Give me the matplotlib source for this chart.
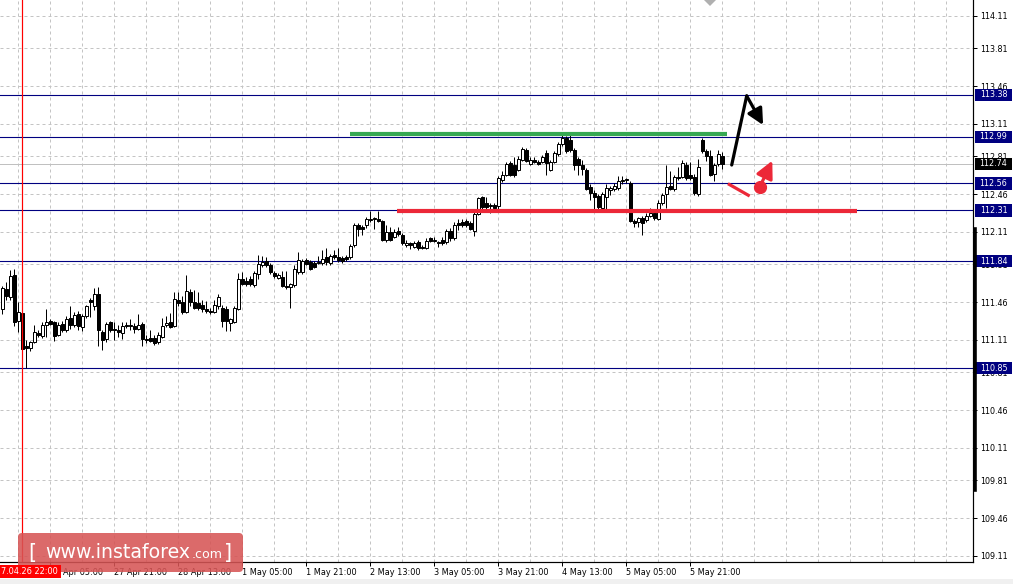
import matplotlib
matplotlib.use("Agg")
import matplotlib.pyplot as plt
from matplotlib.patches import Rectangle, FancyBboxPatch, Polygon
from matplotlib.lines import Line2D
from matplotlib.transforms import blended_transform_factory

# ---------------- data (hourly candles) ----------------
opens = [111.40, 111.58, 111.51, 111.71, 111.29, 111.36, 111.05, 111.04, 111.09, 111.17,
         111.15, 111.25, 111.29, 111.28, 111.16, 111.26, 111.20, 111.31, 111.25, 111.35,
         111.23, 111.33, 111.48, 111.42, 111.54, 111.18, 111.12, 111.28, 111.21, 111.20,
         111.17, 111.25, 111.24, 111.24, 111.21, 111.26, 111.12, 111.13, 111.13, 111.09,
         111.14, 111.25, 111.28, 111.24, 111.48, 111.46, 111.37, 111.55, 111.46, 111.45,
         111.43, 111.40, 111.38, 111.37, 111.42, 111.41, 111.40, 111.27, 111.28, 111.40,
         111.67, 111.66, 111.67, 111.62, 111.72, 111.80, 111.84, 111.80, 111.73, 111.68,
         111.69, 111.61, 111.60, 111.62, 111.74, 111.74, 111.85, 111.83, 111.82, 111.82,
         111.82, 111.88, 111.82, 111.90, 111.88, 111.87, 111.88, 111.88, 111.99, 112.17,
         112.16, 112.17, 112.22, 112.23, 112.23, 112.21, 112.04, 112.11, 112.06, 112.12,
         112.08, 111.99, 112.01, 111.97, 112.02, 111.97, 111.96, 112.05, 112.03, 112.02,
         112.04, 112.02, 112.12, 112.05, 112.19, 112.20, 112.21, 112.19, 112.12, 112.28,
         112.43, 112.38, 112.35, 112.36, 112.35, 112.59, 112.64, 112.75, 112.73, 112.68,
         112.78, 112.87, 112.74, 112.78, 112.76, 112.76, 112.84, 112.68, 112.76, 112.83,
         112.92, 112.98, 112.96, 112.87, 112.79, 112.73, 112.68, 112.53, 112.47, 112.44,
         112.33, 112.43, 112.50, 112.51, 112.52, 112.58, 112.59, 112.56, 112.21, 112.20,
         112.24, 112.22, 112.26, 112.29, 112.23, 112.38, 112.46, 112.54, 112.51, 112.62,
         112.62, 112.73, 112.64, 112.62, 112.46, 112.96, 112.86, 112.81, 112.65, 112.74,
         112.81]
highs = [111.61, 111.65, 111.76, 111.77, 111.46, 111.37, 111.11, 111.10, 111.25, 111.20,
         111.28, 111.40, 111.30, 111.29, 111.28, 111.29, 111.33, 111.42, 111.37, 111.38,
         111.35, 111.43, 111.50, 111.59, 111.60, 111.20, 111.28, 111.29, 111.28, 111.25,
         111.28, 111.28, 111.30, 111.27, 111.35, 111.28, 111.16, 111.20, 111.16, 111.18,
         111.31, 111.33, 111.36, 111.55, 111.55, 111.52, 111.71, 111.58, 111.57, 111.55,
         111.48, 111.47, 111.41, 111.48, 111.54, 111.43, 111.42, 111.31, 111.42, 111.73,
         111.74, 111.69, 111.70, 111.75, 111.90, 111.89, 111.88, 111.82, 111.75, 111.73,
         111.75, 111.75, 111.64, 111.80, 111.92, 111.86, 111.87, 111.85, 111.84, 111.89,
         111.94, 111.96, 111.91, 111.94, 111.96, 111.89, 111.90, 112.00, 112.19, 112.19,
         112.17, 112.25, 112.30, 112.25, 112.30, 112.22, 112.17, 112.16, 112.14, 112.16,
         112.10, 112.04, 112.02, 112.03, 112.04, 111.99, 112.05, 112.06, 112.06, 112.03,
         112.06, 112.14, 112.15, 112.20, 112.23, 112.23, 112.23, 112.21, 112.31, 112.43,
         112.44, 112.43, 112.38, 112.38, 112.63, 112.67, 112.76, 112.77, 112.80, 112.81,
         112.90, 112.89, 112.80, 112.80, 112.78, 112.82, 112.87, 112.78, 112.86, 112.94,
         113.01, 113.00, 113.04, 112.89, 112.80, 112.78, 112.70, 112.55, 112.50, 112.46,
         112.48, 112.55, 112.54, 112.56, 112.63, 112.63, 112.61, 112.58, 112.23, 112.25,
         112.26, 112.29, 112.33, 112.31, 112.41, 112.47, 112.73, 112.67, 112.64, 112.71,
         112.78, 112.76, 112.76, 112.65, 112.79, 112.98, 112.88, 112.87, 112.75, 112.87,
         112.85]
lows = [111.35, 111.48, 111.48, 111.24, 111.18, 111.02, 110.85, 111.01, 111.08, 111.14,
        111.13, 111.14, 111.25, 111.10, 111.15, 111.18, 111.18, 111.21, 111.23, 111.20,
        111.19, 111.31, 111.32, 111.39, 111.05, 111.02, 111.09, 111.18, 111.11, 111.14,
        111.12, 111.22, 111.20, 111.17, 111.20, 111.05, 111.08, 111.09, 111.06, 111.07,
        111.13, 111.23, 111.22, 111.23, 111.42, 111.35, 111.36, 111.42, 111.40, 111.39,
        111.37, 111.36, 111.35, 111.36, 111.40, 111.23, 111.19, 111.19, 111.27, 111.39,
        111.62, 111.61, 111.61, 111.60, 111.67, 111.79, 111.79, 111.72, 111.68, 111.67,
        111.60, 111.58, 111.41, 111.60, 111.72, 111.72, 111.80, 111.76, 111.78, 111.81,
        111.80, 111.80, 111.80, 111.86, 111.83, 111.82, 111.84, 111.86, 111.97, 112.07,
        112.08, 112.15, 112.20, 112.14, 112.20, 112.03, 112.02, 112.03, 112.05, 112.07,
        111.99, 111.97, 111.95, 111.96, 111.94, 111.95, 111.95, 112.02, 112.02, 111.97,
        111.99, 112.00, 112.03, 112.04, 112.13, 112.16, 112.16, 112.13, 112.07, 112.27,
        112.31, 112.31, 112.29, 112.31, 112.30, 112.57, 112.63, 112.63, 112.62, 112.67,
        112.77, 112.76, 112.73, 112.75, 112.73, 112.75, 112.64, 112.67, 112.75, 112.81,
        112.91, 112.84, 112.85, 112.68, 112.64, 112.64, 112.50, 112.41, 112.31, 112.31,
        112.32, 112.31, 112.45, 112.49, 112.50, 112.55, 112.56, 112.20, 112.16, 112.16,
        112.08, 112.20, 112.25, 112.22, 112.22, 112.36, 112.33, 112.50, 112.49, 112.59,
        112.61, 112.59, 112.59, 112.45, 112.44, 112.84, 112.77, 112.63, 112.58, 112.72,
        112.69]
closes = [111.59, 111.52, 111.70, 111.28, 111.37, 111.03, 111.04, 111.09, 111.18, 111.16,
          111.25, 111.28, 111.26, 111.15, 111.25, 111.20, 111.30, 111.25, 111.34, 111.24,
          111.33, 111.42, 111.46, 111.54, 111.20, 111.11, 111.26, 111.20, 111.20, 111.18,
          111.24, 111.24, 111.25, 111.21, 111.25, 111.12, 111.11, 111.10, 111.08, 111.16,
          111.24, 111.27, 111.23, 111.49, 111.45, 111.37, 111.56, 111.46, 111.41, 111.41,
          111.40, 111.38, 111.37, 111.43, 111.51, 111.29, 111.29, 111.30, 111.41, 111.67,
          111.63, 111.63, 111.63, 111.73, 111.81, 111.83, 111.80, 111.74, 111.70, 111.71,
          111.61, 111.60, 111.63, 111.77, 111.85, 111.84, 111.81, 111.77, 111.79, 111.83,
          111.86, 111.83, 111.89, 111.88, 111.85, 111.84, 111.86, 111.98, 112.17, 112.14,
          112.14, 112.23, 112.23, 112.24, 112.21, 112.04, 112.11, 112.04, 112.11, 112.09,
          112.01, 112.01, 111.99, 112.01, 111.96, 111.96, 112.03, 112.03, 112.04, 112.01,
          112.01, 112.12, 112.05, 112.17, 112.17, 112.17, 112.17, 112.14, 112.28, 112.42,
          112.34, 112.34, 112.36, 112.33, 112.61, 112.64, 112.74, 112.64, 112.64, 112.79,
          112.88, 112.77, 112.78, 112.76, 112.74, 112.80, 112.75, 112.76, 112.84, 112.92,
          112.98, 112.86, 112.87, 112.73, 112.73, 112.69, 112.51, 112.47, 112.43, 112.34,
          112.46, 112.52, 112.52, 112.54, 112.58, 112.59, 112.60, 112.21, 112.19, 112.24,
          112.19, 112.26, 112.29, 112.24, 112.38, 112.45, 112.53, 112.51, 112.62, 112.61,
          112.75, 112.61, 112.61, 112.47, 112.71, 112.86, 112.81, 112.64, 112.73, 112.83,
          112.74]

price_ticks = [109.11, 109.46, 109.81, 110.11, 110.46, 110.81, 111.11, 111.46,
               111.81, 112.11, 112.46, 112.81, 113.11, 113.46, 113.81, 114.11]
time_tick_bars = [12, 28, 44, 60, 76, 92, 108, 124, 140, 156, 172]
time_tick_labels = ["26 Apr 05:00", "27 Apr 21:00", "28 Apr 13:00", "1 May 05:00",
                    "1 May 21:00", "2 May 13:00", "3 May 05:00", "3 May 21:00",
                    "4 May 13:00", "5 May 05:00", "5 May 21:00"]
levels = [113.38, 112.99, 112.56, 112.31, 111.84, 110.85]
current_price = 112.74
cursor_bar = 5
cursor_label = "7.04.26 22:00"

resistance_price = 113.02
resistance_bars = [86.9, 181.2]
support_price = 112.30
support_bars = [98.7, 213.7]

bull_path_bars = [182.35, 186.1, 190.2]
bull_path_prices = [112.73, 113.37, 113.10]
bear_stroke_bars = [181.75, 186.5]
bear_stroke_prices = [112.55, 112.45]
bear_dot = (189.4, 112.53)
bear_arrow_tip = (192.5, 112.77)

# ---------------- figure ----------------
W, H = 1013, 584
fig = plt.figure(figsize=(W / 100, H / 100), dpi=100)
fig.patch.set_facecolor("white")
ax = fig.add_axes([0, 1 - 562 / H, 973 / W, 562 / H])
ax.set_facecolor("white")
ax.set_xlim(-0.575, 242.675)
ax.set_ylim(109.054, 114.258)

GRID = "#c4c4c4"
NAVY = "#000080"
px = 0.72  # one pixel in points

# grid
for p in price_ticks:
    ax.axhline(p, color=GRID, lw=px, ls=(0, (3, 3)), zorder=0.5)
for b in range(4, 243, 8):
    ax.axvline(b, color=GRID, lw=px, ls=(0, (3, 3)), zorder=0.5)

# current price line & levels
ax.axhline(current_price, color="#c0c0c0", lw=px, zorder=0.8)
for lv in levels:
    ax.axhline(lv, color=NAVY, lw=px * 1.1, zorder=1)

# candles
n = len(closes)
xs = list(range(n))
ax.vlines(xs, lows, highs, color="black", lw=px, zorder=3)
bottoms = [min(o, c) for o, c in zip(opens, closes)]
heights = [abs(c - o) for o, c in zip(opens, closes)]
faces = ["white" if c >= o else "black" for o, c in zip(opens, closes)]
ax.bar(xs, heights, bottom=bottoms, width=0.75, color=faces, edgecolor="black",
       linewidth=px, zorder=3.5)

# cursor line
ax.axvline(cursor_bar, color="#ff0000", lw=px * 1.2, zorder=4)

# support / resistance
ax.plot(resistance_bars, [resistance_price] * 2, color="#36a852", lw=3.0,
        solid_capstyle="butt", zorder=4.5)
ax.plot(support_bars, [support_price] * 2, color="#ec2838", lw=3.0,
        solid_capstyle="butt", zorder=4.5)

# forecast arrows
ax.plot(bull_path_bars[:2], bull_path_prices[:2], color="black", lw=2.3,
        solid_capstyle="round", zorder=6)
ax.annotate("", xy=(bull_path_bars[2], bull_path_prices[2]),
            xytext=(bull_path_bars[1], bull_path_prices[1]),
            arrowprops=dict(arrowstyle="-|>", color="black", lw=2.3,
                            mutation_scale=24, shrinkA=0, shrinkB=0), zorder=6)
ax.plot(bear_stroke_bars, bear_stroke_prices, color="#ec2838", lw=2.3, zorder=6)
ax.plot([bear_dot[0]], [bear_dot[1]], "o", color="#ec2838", ms=8.5, zorder=6)
ax.annotate("", xy=bear_arrow_tip, xytext=bear_dot,
            arrowprops=dict(arrowstyle="-|>", color="#ec2838", lw=2.3,
                            mutation_scale=26, shrinkA=0, shrinkB=0), zorder=6)

# axes styling
for s in ["top", "left"]:
    ax.spines[s].set_visible(False)
for s in ["right", "bottom"]:
    ax.spines[s].set_color("black")
    ax.spines[s].set_linewidth(px * 1.2)
ax.yaxis.tick_right()
ax.set_yticks(price_ticks)
ax.set_yticklabels([f"{p:.2f}" for p in price_ticks])
ax.tick_params(axis="y", length=3, width=px, pad=2, labelsize=5.8, colors="black")
ax.set_xticks(time_tick_bars)
ax.set_xticklabels(time_tick_labels)
ax.tick_params(axis="x", length=3, width=px, pad=1.5, labelsize=5.9, colors="black")
for lab in ax.get_xticklabels():
    lab.set_horizontalalignment("left")
for lab in ax.get_yticklabels() + ax.get_xticklabels():
    lab.set_family("DejaVu Sans")

# level labels on the price scale
tr = blended_transform_factory(fig.transFigure, ax.transData)
box_h = 12.5 / 108
for lv in levels:
    ax.add_patch(Rectangle((975 / W, lv - box_h / 2), 37 / W, box_h, transform=tr,
                           facecolor=NAVY, edgecolor="none", clip_on=False, zorder=10))
    ax.text(993.5 / W, lv, f"{lv:.2f}", transform=tr, ha="center", va="center",
            color="white", fontsize=5.8, zorder=11, clip_on=False)
ax.add_patch(Rectangle((975 / W, current_price - box_h / 2), 37 / W, box_h, transform=tr,
                       facecolor="black", edgecolor="none", clip_on=False, zorder=10))
ax.text(993.5 / W, current_price, f"{current_price:.2f}", transform=tr, ha="center",
        va="center", color="white", fontsize=5.8, zorder=11, clip_on=False)

# figure-level decorations (pixel coordinates)
def fx(x):
    return x / W

def fy(y):
    return 1 - y / H

# thick scroll bar on the price axis
fig.add_artist(Line2D([fx(974.5), fx(974.5)], [fy(229), fy(490)], color="black", lw=2.6))
# top marker
fig.add_artist(Polygon([(fx(704), fy(0)), (fx(716), fy(0)), (fx(710), fy(6))],
                       closed=True, facecolor="#b0b0b0", edgecolor="none"))
# bottom strip
fig.add_artist(Rectangle((0, 0), 1, 5 / H, facecolor="#f0f0f0", edgecolor="none"))
# cursor time label
fig.add_artist(Rectangle((0, fy(578)), fx(61), 13 / H, facecolor="#ff0000", edgecolor="none",
                         zorder=20))
fig.text(fx(1), fy(571.5), cursor_label, color="white", fontsize=5.9, va="center",
         ha="left", zorder=21)
# watermark logo
logo = FancyBboxPatch((fx(18), fy(572)), fx(225), 39 / H,
                      boxstyle="round,pad=0,rounding_size=0.004",
                      mutation_aspect=W / H, facecolor="#d65555", edgecolor="none",
                      alpha=0.88, zorder=15)
fig.add_artist(logo)
fig.text(fx(32), fy(553), "[", color="white", fontsize=15, ha="center", va="center",
         zorder=16)
fig.text(fx(45), fy(558), "www.instaforex", color="white", fontsize=13.6, ha="left",
         va="baseline", zorder=16)
fig.text(fx(192), fy(558), ".com", color="white", fontsize=9.1, ha="left",
         va="baseline", zorder=16)
fig.text(fx(228), fy(553), "]", color="white", fontsize=15, ha="center", va="center",
         zorder=16)

fig.savefig("out.png", dpi=100, facecolor="white")
